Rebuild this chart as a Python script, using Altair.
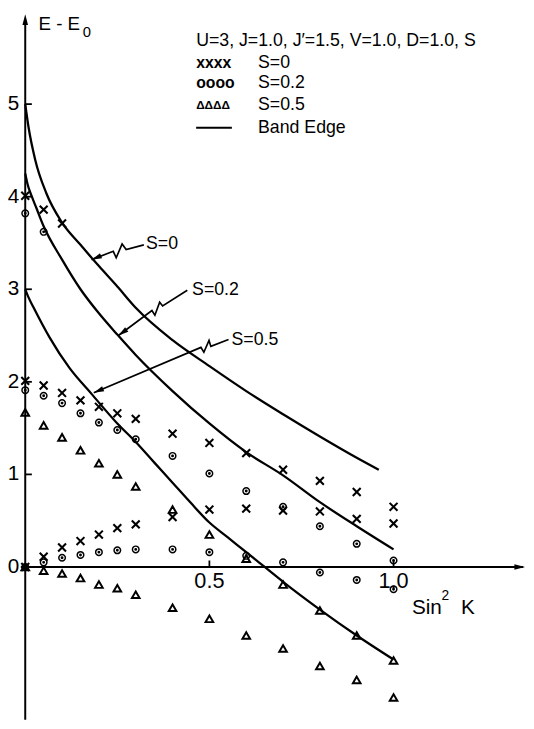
import altair as alt
import pandas as pd

# ---------------- values ----------------
K_STEPS = [0.0, 0.05, 0.10, 0.15, 0.20, 0.25, 0.30, 0.40, 0.50, 0.60, 0.70, 0.80, 0.90, 1.00]

# S = 0  (x markers)
s0_hi_x = [0.0, 0.05, 0.10]
s0_hi_y = [4.01, 3.86, 3.71]
s0_mid_y = [2.01, 1.96, 1.88, 1.80, 1.73, 1.66, 1.60, 1.44, 1.34, 1.23, 1.05, 0.93, 0.81, 0.65]
s0_lo_y = [0.0, 0.11, 0.21, 0.28, 0.35, 0.42, 0.46, 0.54, 0.62, 0.63, 0.61, 0.60, 0.52, 0.47]

# S = 0.2  (dotted circles)
s2_hi_x = [0.0, 0.05]
s2_hi_y = [3.82, 3.62]
s2_mid_y = [1.91, 1.85, 1.77, 1.66, 1.56, 1.48, 1.38, 1.20, 1.01, 0.82, 0.65, 0.44, 0.25, 0.07]
s2_lo_y = [0.0, 0.05, 0.10, 0.13, 0.16, 0.18, 0.19, 0.19, 0.16, 0.12, 0.05, -0.06, -0.14, -0.24]

# S = 0.5  (triangles)
s5_hi_y = [1.67, 1.53, 1.40, 1.26, 1.12, 1.00, 0.87, 0.62, 0.35, 0.09, -0.19, -0.47, -0.74, -1.01]
s5_lo_y = [0.0, -0.04, -0.07, -0.12, -0.19, -0.23, -0.30, -0.44, -0.56, -0.74, -0.88, -1.07, -1.22, -1.41]

# Band edges
be0_x = [0.0, 0.009, 0.027, 0.057, 0.10, 0.15, 0.20, 0.25, 0.30, 0.40, 0.50, 0.60, 0.70, 0.80, 0.90, 0.96]
be0_y = [5.0, 4.75, 4.40, 4.04, 3.72, 3.48, 3.25, 3.03, 2.80, 2.45, 2.17, 1.90, 1.65, 1.41, 1.18, 1.05]
be2_x = [0.0, 0.006, 0.018, 0.03, 0.05, 0.10, 0.15, 0.20, 0.25, 0.30, 0.40, 0.50, 0.60, 0.70, 0.80, 0.90, 1.00]
be2_y = [4.25, 4.14, 4.00, 3.88, 3.68, 3.32, 3.00, 2.74, 2.51, 2.29, 1.90, 1.55, 1.24, 0.99, 0.70, 0.44, 0.19]
be5_x = [0.0, 0.008, 0.023, 0.066, 0.12, 0.18, 0.25, 0.30, 0.35, 0.40, 0.45, 0.50, 0.55, 0.60, 0.65, 0.70, 0.80, 0.90, 1.00]
be5_y = [3.0, 2.92, 2.80, 2.48, 2.15, 1.87, 1.55, 1.35, 1.13, 0.91, 0.69, 0.48, 0.32, 0.16, 0.0, -0.16, -0.46, -0.74, -1.0]

# tick labels
y_ticks = [1, 2, 3, 4, 5]
y_tick_labels = ["1", "2", "3", "4", "5"]
x_ticks = [0.5, 1.0]
x_tick_labels = ["0.5", "1.0"]

header_text = "U=3, J=1.0, J\u2032=1.5, V=1.0, D=1.0, S"
legend_symbols = ["xxxx", "oooo", "\u0394\u0394\u0394\u0394"]
legend_labels = ["S=0", "S=0.2", "S=0.5", "Band Edge"]
callout_labels = ["S=0", "S=0.2", "S=0.5"]

# ---------------- layout (scale domains, annotation placement) ----------------
XD = [-0.0468, 1.3596]
YD = [-1.691, 5.979]
FONT = "Liberation Sans"

X = alt.X("x:Q", scale=alt.Scale(domain=XD, nice=False, zero=False), axis=None)
Y = alt.Y("y:Q", scale=alt.Scale(domain=YD, nice=False, zero=False), axis=None)

CROSS = "M-1,-1L1,1M-1,1L1,-1"
DOTCIRCLE = ("M1,0A1,1,0,1,1,-1,0A1,1,0,1,1,1,0Z"
             "M0.22,0A0.22,0.22,0,1,1,-0.22,0A0.22,0.22,0,1,1,0.22,0Z")
ARROW = "M0,0L-0.5,1.9L0.5,1.9Z"


def df(xs, ys):
    return pd.DataFrame({"x": xs, "y": ys})


def text_layer(xs, ys, texts, size, align="left", baseline="middle", weight="normal", dx=0, dy=0):
    d = pd.DataFrame({"x": xs, "y": ys, "t": texts})
    return alt.Chart(d).mark_text(align=align, baseline=baseline, font=FONT, fontSize=size,
                                  fontWeight=weight, color="black", dx=dx, dy=dy).encode(
        x=X, y=Y, text="t:N")


layers = []

# axes
axes_df = pd.DataFrame({"x": [0.0, -0.012], "x2": [0.0, 1.352],
                        "y": [-1.65, 0.0], "y2": [5.90, 0.0]})
layers.append(alt.Chart(axes_df).mark_rule(color="black", strokeWidth=2).encode(
    x=X, y=Y, x2="x2:Q", y2="y2:Q"))
arrows_axes = pd.DataFrame({"x": [0.0, 1.357], "y": [5.97, 0.0], "a": [0, 90]})
layers.append(alt.Chart(arrows_axes).mark_point(shape=ARROW, filled=True, color="black",
                                                size=130, opacity=1).encode(
    x=X, y=Y, angle=alt.Angle("a:Q", scale=None)))

# ticks
yt = pd.DataFrame({"x": [0.0] * len(y_ticks), "x2": [0.018] * len(y_ticks), "y": y_ticks})
layers.append(alt.Chart(yt).mark_rule(color="black", strokeWidth=1.8).encode(x=X, x2="x2:Q", y=Y))
xt = pd.DataFrame({"x": x_ticks, "y": [0.0] * len(x_ticks), "y2": [0.07] * len(x_ticks)})
layers.append(alt.Chart(xt).mark_rule(color="black", strokeWidth=1.8).encode(x=X, y=Y, y2="y2:Q"))

# tick labels
layers.append(text_layer([0.0] * (len(y_ticks) + 1), y_ticks + [0], y_tick_labels + ["0"], 21,
                         align="right", dx=-6))
layers.append(text_layer(x_ticks, [0.0] * len(x_ticks), x_tick_labels, 22,
                         align="center", baseline="top", dy=4))

# axis titles
layers.append(text_layer([0.036], [5.862], ["E - E"], 19))
layers.append(text_layer([0.156], [5.777], ["0"], 15))
layers.append(text_layer([1.05, 1.183], [-0.51, -0.51], ["Sin", "K"], 21, baseline="alphabetic"))
layers.append(text_layer([1.13], [-0.36], ["2"], 14, baseline="alphabetic"))

# band edges
for bx, by in [(be0_x, be0_y), (be2_x, be2_y), (be5_x, be5_y)]:
    layers.append(alt.Chart(df(bx, by)).mark_line(color="black", strokeWidth=2.3,
                                                  interpolate="monotone").encode(x=X, y=Y, order="x:Q"))

# data points
pts_x = pd.concat([df(s0_hi_x, s0_hi_y), df(K_STEPS, s0_mid_y), df(K_STEPS, s0_lo_y)])
pts_o = pd.concat([df(s2_hi_x, s2_hi_y), df(K_STEPS, s2_mid_y), df(K_STEPS, s2_lo_y)])
pts_t = pd.concat([df(K_STEPS, s5_hi_y), df(K_STEPS, s5_lo_y)])
layers.append(alt.Chart(pts_x).mark_point(shape=CROSS, filled=False, color="black", size=64,
                                          strokeWidth=2.1, opacity=1).encode(x=X, y=Y))
layers.append(alt.Chart(pts_o).mark_point(shape=DOTCIRCLE, filled=False, color="black", size=44,
                                          strokeWidth=1.5, opacity=1).encode(x=X, y=Y))
layers.append(alt.Chart(pts_t).mark_point(shape="triangle-up", filled=False, color="black", size=60,
                                          strokeWidth=2.0, opacity=1).encode(x=X, y=Y))

# call-outs (zig-zag leaders with arrowheads)
callouts = [
    ([0.322, 0.274, 0.263, 0.247, 0.239, 0.180], [3.48, 3.43, 3.49, 3.34, 3.41, 3.32]),
    ([0.440, 0.373, 0.365, 0.352, 0.344, 0.253], [2.99, 2.82, 2.86, 2.72, 2.77, 2.50]),
    ([0.552, 0.504, 0.499, 0.485, 0.477, 0.186], [2.457, 2.383, 2.447, 2.319, 2.372, 1.883]),
]
for cx, cy in callouts:
    d = df(cx, cy)
    d["o"] = range(len(cx))
    layers.append(alt.Chart(d).mark_line(color="black", strokeWidth=1.7).encode(x=X, y=Y, order="o:Q"))
tips = pd.DataFrame({"x": [c[0][-1] for c in callouts], "y": [c[1][-1] for c in callouts],
                     "a": [248, 234, 247]})
layers.append(alt.Chart(tips).mark_point(shape=ARROW, filled=True, color="black", size=120,
                                         opacity=1).encode(x=X, y=Y, angle=alt.Angle("a:Q", scale=None)))
layers.append(text_layer([0.328, 0.453, 0.560], [3.49, 2.99, 2.447], callout_labels, 18))

# legend block
leg_rows_y = [5.447, 5.223, 4.989, 4.745]
layers.append(text_layer([0.464], [5.68], [header_text], 18))
layers.append(text_layer([0.464, 0.464], leg_rows_y[:2], legend_symbols[:2], 16, weight="bold"))
layers.append(text_layer([0.464], [leg_rows_y[2]], [legend_symbols[2]], 12, weight="bold"))
layers.append(text_layer([0.632] * 4, leg_rows_y, legend_labels, 18))
layers.append(alt.Chart(pd.DataFrame({"x": [0.464], "x2": [0.561], "y": [leg_rows_y[3]]}))
              .mark_rule(color="black", strokeWidth=2).encode(x=X, x2="x2:Q", y=Y))

chart = alt.layer(*layers).properties(
    width=526, height=721, padding=0,
    autosize=alt.AutoSizeParams(type="none"),
    background="white",
).configure_view(stroke=None)

chart.save("out.html", embed_options={"renderer": "svg", "actions": False})
